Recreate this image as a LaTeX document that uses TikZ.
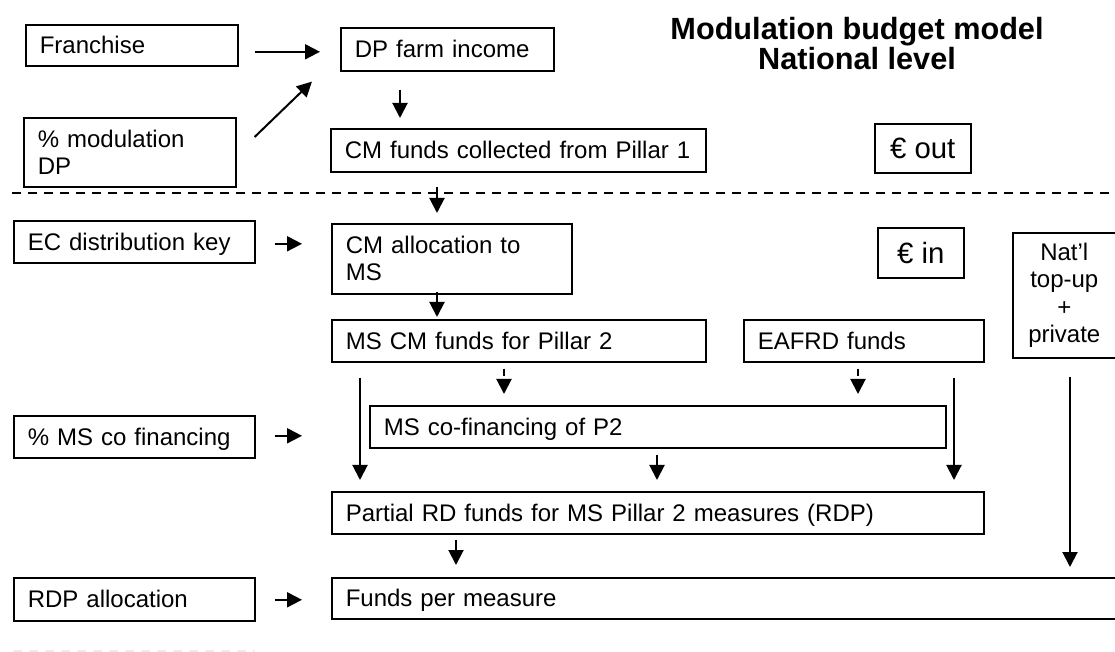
\documentclass[tikz,border=0pt]{standalone}
\usepackage{fontspec}
\setmainfont{Liberation Sans}
\usetikzlibrary{arrows.meta}

\begin{document}
\begin{tikzpicture}[x=0.75pt,y=-0.75pt]
    % Define the styles for the boxes and the arrows
    \tikzset{box/.style={rectangle, draw, line width=1.2pt, anchor=north west, font=\fontsize{18}{20.4}\selectfont}}
    \tikzset{block/.style={box, align=left, inner xsep=10.5pt, inner ysep=0pt, text height=12.9pt, text depth=0pt}}
    \tikzset{twoline/.style={block, text depth=20.4pt}}
    \tikzset{euro/.style={box, align=center, inner sep=0pt, font=\fontsize{22}{24}\selectfont}}
    \tikzset{arr/.style={draw, line width=1.5pt, -{Triangle[width=11.25pt,length=11.25pt]}}}
    \tikzset{darr/.style={arr, dash pattern=on 5.25pt off 6pt}}

    \useasboundingbox (0,0) rectangle (1115,652);

    % Title
    \node[align=center, font=\bfseries\fontsize{23}{21}\selectfont] (title) at (857,44) {Modulation budget model\\National level};

    % Pillar 1 part (money out)
    \node[block, text width=138pt, minimum height=30.75pt] (franchise) at (25,24) {Franchise};
    \node[twoline, text width=138pt, minimum height=51.75pt] (moddp) at (23,117) {\% modulation\\DP};
    \node[block, text width=138.75pt, minimum height=32.25pt] (dpinc) at (340,27) {DP farm income};
    \node[block, text width=260.25pt, minimum height=32.25pt] (cmout) at (330,128) {CM funds collected from Pillar 1};
    \node[euro, minimum width=72pt, minimum height=36.75pt] (eurout) at (874,123) {€ out};

    % Separation line
    \draw[line width=1.2pt, dash pattern=on 6.75pt off 5.25pt] (12,193) -- (1112,193);

    % Pillar 2 part (money in)
    \node[block, text width=159.75pt, minimum height=31.5pt] (eckey) at (13,220) {EC distribution key};
    \node[twoline, text width=159pt, minimum height=52.5pt] (cmalloc) at (331,223) {CM allocation to\\MS};
    \node[euro, minimum width=64.5pt, minimum height=37.5pt] (eurin) at (877,227) {€ in};
    \node[box, align=center, inner sep=2pt, minimum width=77.25pt, minimum height=93.75pt] (natl) at (1012,232) {Nat’l\\top-up\\+\\private};
    \node[block, text width=259.5pt, minimum height=31.5pt] (mscm) at (331,319) {MS CM funds for Pillar 2};
    \node[block, text width=159pt, minimum height=31.5pt] (eafrd) at (743,319) {EAFRD funds};
    \node[block, text width=159.75pt, minimum height=31.5pt] (mscofin) at (13,415) {\% MS co financing};
    \node[block, text width=411pt, minimum height=31.5pt] (cofin) at (369,405) {MS co-financing of P2};
    \node[block, text width=468pt, minimum height=31.5pt] (partial) at (331,491) {Partial RD funds for MS Pillar 2 measures (RDP)};
    \node[block, text width=159.75pt, minimum height=32.25pt] (rdpalloc) at (13,577) {RDP allocation};
    \node[block, text width=570.75pt, minimum height=30.75pt] (funds) at (331,577) {Funds per measure};

    % Draw the arrows
    \draw[arr] ([shift={(16,6.5)}]franchise.east) -- ([shift={(-20,2.5)}]dpinc.west);
    \draw[arr] ([shift={(18,20)}]moddp.north east) -- ([shift={(-28,10)}]dpinc.south west);
    \draw[arr] ([shift={(60,18)}]dpinc.south west) -- ([shift={(70,-10)}]cmout.north west);
    \draw[arr] ([shift={(107,14)}]cmout.south west) -- ([shift={(106,-10)}]cmalloc.north west);
    \draw[arr] ([shift={(19,2)}]eckey.east) -- ([shift={(-29,-15)}]cmalloc.west);
    \draw[arr] ([shift={(106,-3)}]cmalloc.south west) -- ([shift={(106,-2)}]mscm.north west);
    \draw[arr] ([shift={(29,15)}]mscm.south west) -- ([shift={(29,-11)}]partial.north west);
    \draw[darr] ([shift={(173,6)}]mscm.south west) -- ([shift={(135,-11)}]cofin.north west);
    \draw[darr] ([shift={(115,6)}]eafrd.south west) -- ([shift={(489,-11)}]cofin.north west);
    \draw[arr] ([shift={(211,15)}]eafrd.south west) -- ([shift={(623,-11)}]partial.north west);
    \draw[arr] ([shift={(288,6)}]cofin.south west) -- ([shift={(326,-11)}]partial.north west);
    \draw[arr] ([shift={(19,-1)}]mscofin.east) -- ([shift={(-67,9)}]cofin.west);
    \draw[arr] ([shift={(125,5)}]partial.south west) -- ([shift={(125,-12)}]funds.north west);
    \draw[arr] ([shift={(58,18)}]natl.south west) -- ([shift={(739,-10)}]funds.north west);
    \draw[arr] ([shift={(19,0.5)}]rdpalloc.east) -- ([shift={(-29,1.5)}]funds.west);

    % Faint line at the bottom
    \draw[gray!15, line width=1.2pt, dash pattern=on 6.75pt off 5.25pt] (13,651) -- (255,651);
\end{tikzpicture}
\end{document}
